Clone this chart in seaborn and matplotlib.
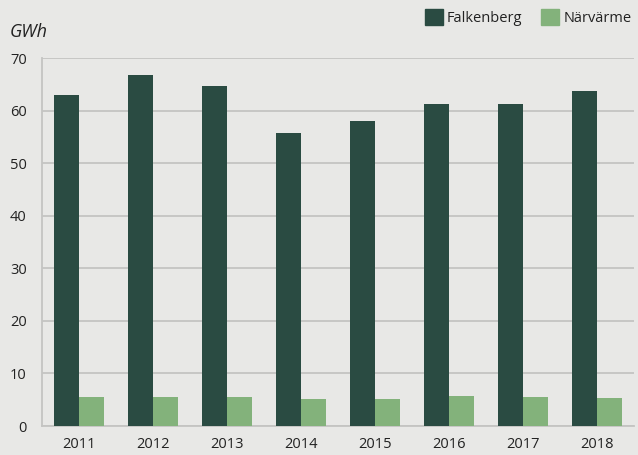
import pandas as pd
import seaborn as sns
import matplotlib.pyplot as plt
from matplotlib.ticker import FixedLocator

years = ['2011', '2012', '2013', '2014', '2015', '2016', '2017', '2018']
falkenberg = [62.9, 66.7, 64.6, 55.8, 58.0, 61.2, 61.2, 63.7]
narvarme = [5.5, 5.5, 5.5, 5.1, 5.1, 5.7, 5.5, 5.3]
series = ['Falkenberg', 'Närvärme']
colors = ['#2a4b42', '#83b27b']

df = pd.DataFrame({'År': years * 2,
                   'GWh': falkenberg + narvarme,
                   'Serie': [series[0]] * len(years) + [series[1]] * len(years)})

sns.set_style('white')
plt.rcParams['font.family'] = ['Open Sans', 'DejaVu Sans']
bg = '#e8e8e6'
grid = '#c4c4c2'
txt = '#222222'

fig = plt.figure(figsize=(6.38, 4.55), dpi=100, facecolor=bg)
ax = fig.add_axes([42 / 638, 29 / 455, 592 / 638, 368 / 455], facecolor=bg)

sns.barplot(data=df, x='År', y='GWh', hue='Serie', palette=colors,
            width=0.68, saturation=1, linewidth=0, ax=ax, zorder=3,
            legend=False)

ax.set_ylim(0, 70)
ax.set_xlim(-0.5, len(years) - 0.5)
ax.set_yticks(range(0, 71, 10))
ax.yaxis.grid(True, color=grid, linewidth=1.3, zorder=0)
ax.set_xlabel('')
ax.set_ylabel('')

for side in ['top', 'right']:
    ax.spines[side].set_visible(False)
for side in ['left', 'bottom']:
    ax.spines[side].set_color(grid)
    ax.spines[side].set_linewidth(1.3)

ax.tick_params(axis='y', length=5, width=1.3, color=grid, labelsize=10.5,
               labelcolor=txt, pad=6)
ax.tick_params(axis='x', which='major', length=0, labelsize=10.5,
               labelcolor=txt, pad=8)
ax.xaxis.set_minor_locator(FixedLocator([i + 0.5 for i in range(len(years))]))
ax.tick_params(axis='x', which='minor', direction='in', length=4, width=1.3,
               color=grid)

fig.text(10 / 638, 1 - 32 / 455, 'GWh', fontsize=13, style='italic',
         color=txt, va='center', ha='left')

handles = [plt.Rectangle((0, 0), 1, 1, color=c) for c in colors]
fig.legend(handles, series, loc='upper right', bbox_to_anchor=(1.008, 1.005),
           ncol=2, frameon=False, fontsize=10.5, handlelength=1.2,
           handleheight=1.3, handletextpad=0.3, columnspacing=1.3,
           labelcolor=txt, borderaxespad=0.4)

fig.savefig('out.png', dpi=100, facecolor=bg)
